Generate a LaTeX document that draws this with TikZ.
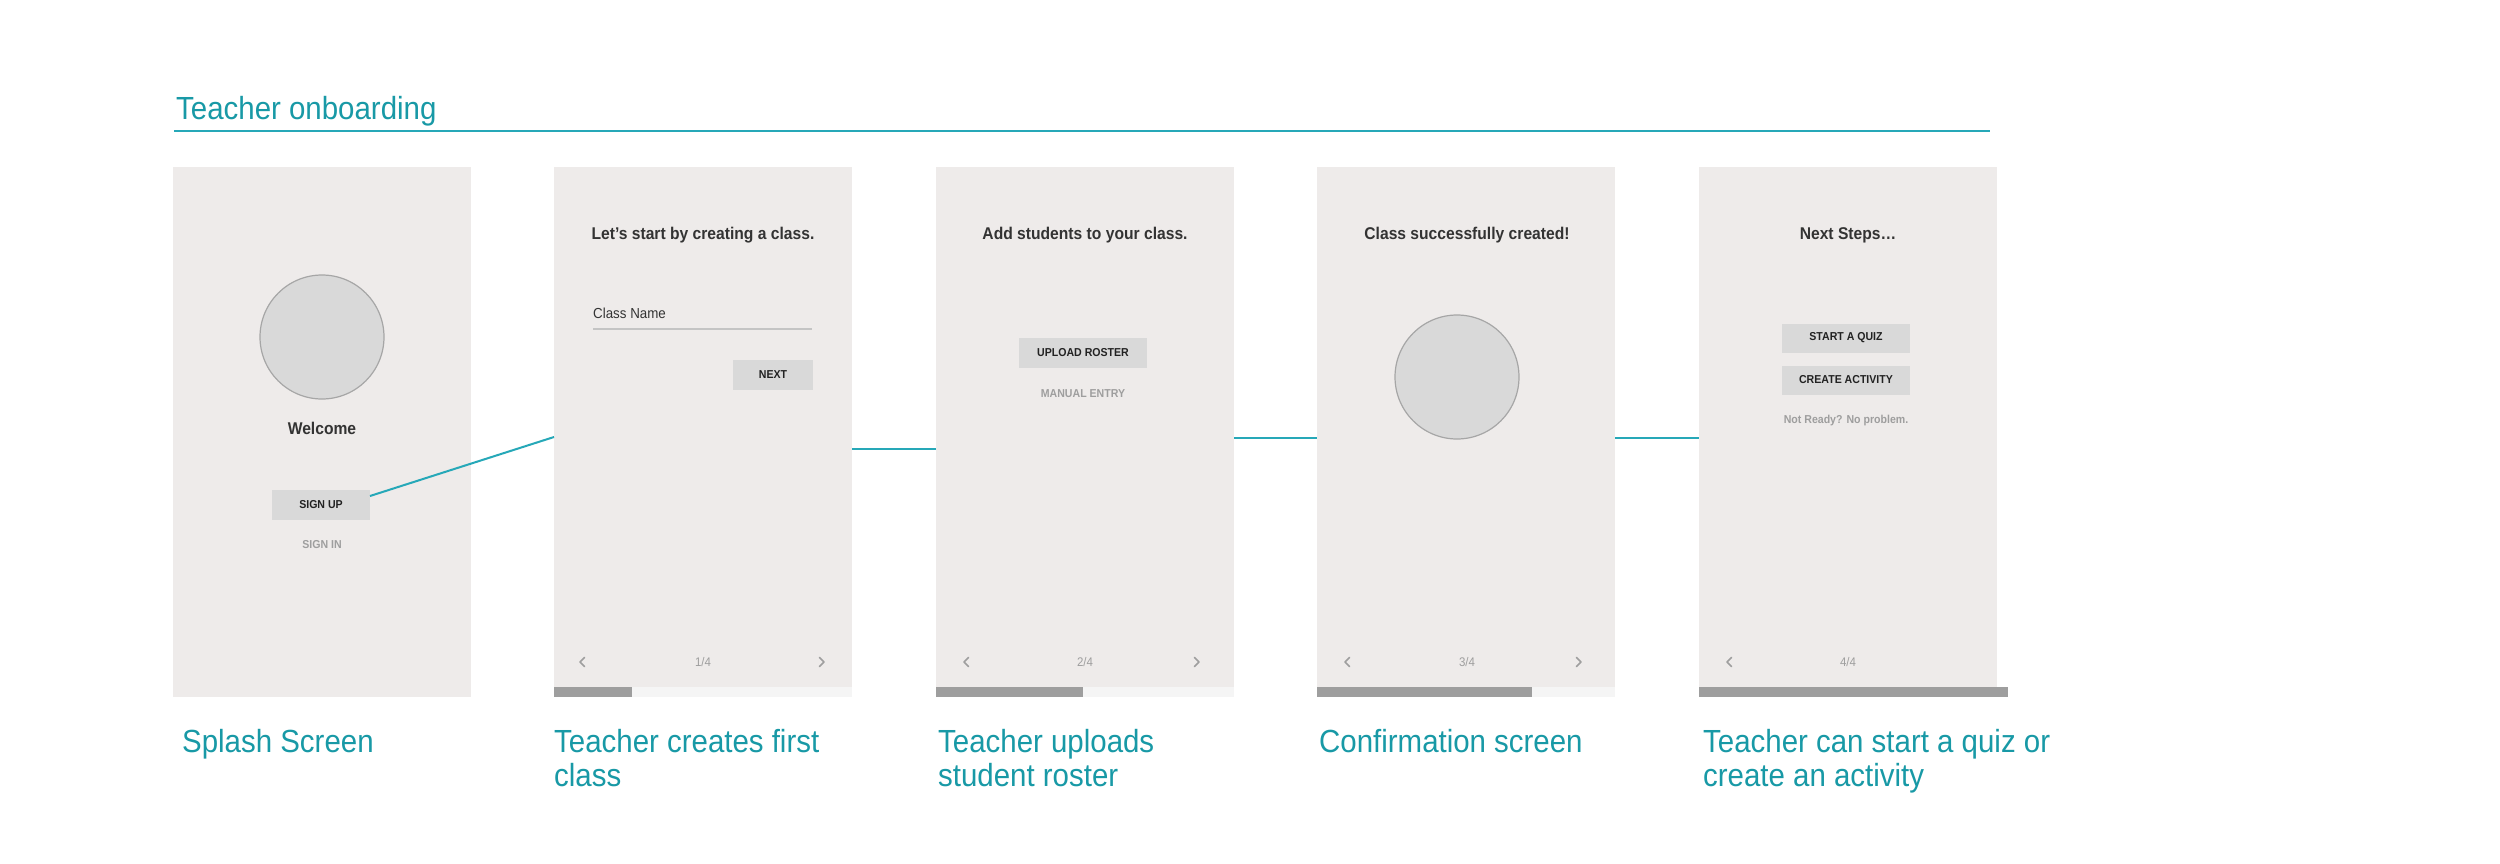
\documentclass[tikz,border=0pt]{standalone}
\usepackage{fontspec}
\setmainfont{Liberation Sans}[FakeStretch=0.92]
\usetikzlibrary{calc}
\definecolor{tealtxt}{RGB}{24,153,166}
\definecolor{tealline}{RGB}{38,168,184}
\definecolor{scr}{RGB}{238,235,234}
\definecolor{btnc}{RGB}{217,217,217}
\definecolor{darktxt}{RGB}{51,51,51}
\definecolor{btntxt}{RGB}{34,34,34}
\definecolor{greytxt}{RGB}{158,158,158}
\definecolor{progd}{RGB}{158,158,158}
\definecolor{progl}{RGB}{245,245,245}
\definecolor{circd}{RGB}{166,166,166}
\definecolor{ulinec}{RGB}{196,196,196}
\begin{document}
\begin{tikzpicture}[x=1pt,y=-1pt,
  scrbox/.style={fill=scr, draw=none, minimum width=298pt, minimum height=530pt, anchor=north west, inner sep=0pt, outer sep=0pt},
  circph/.style={circle, fill=btnc, draw=circd, line width=1.2pt, minimum size=124pt, inner sep=0pt},
  btnbox/.style={fill=btnc, inner sep=0pt, outer sep=0pt, text=btntxt, font=\bfseries\fontsize{11.5}{13}\selectfont},
  headtxt/.style={anchor=base, text=darktxt, font=\bfseries\fontsize{17}{20}\selectfont, inner sep=0pt},
  linktxt/.style={anchor=base, text=greytxt, font=\bfseries\fontsize{11.5}{13}\selectfont, inner sep=0pt},
  navtxt/.style={anchor=base, text=greytxt, font=\fontsize{12.5}{14}\selectfont, inner sep=0pt},
  chevpath/.style={draw=greytxt, line width=1.6pt, line cap=round, line join=round},
  trackbar/.style={fill=progl, draw=none},
  fillbarr/.style={fill=progd, draw=none},
  connline/.style={draw=tealline, line width=2pt},
  captxt/.style={anchor=base west, text=tealtxt, font=\fontsize{32}{34}\selectfont, inner sep=0pt},
]
\useasboundingbox[fill=white] (0,0) rectangle (2500,863);

% title
\node[captxt] (title) at (176,119) {Teacher onboarding};
\coordinate (ruleL) at (174,131);
\coordinate (ruleR) at (1990,131);
\draw[tealline, line width=1.6pt] (ruleL) -- (ruleR);

% screens
\node[scrbox] (s1) at (173,167) {};
\node[scrbox] (s2) at (554,167) {};
\node[scrbox] (s3) at (936,167) {};
\node[scrbox] (s4) at (1317,167) {};
\node[scrbox] (s5) at (1699,167) {};

% progress bars
\fill[trackbar] ($(s2.south west)+(0,-10)$) rectangle (s2.south east);
\fill[fillbarr] ($(s2.south west)+(0,-10)$) rectangle ($(s2.south west)+(78,0)$);
\fill[trackbar] ($(s3.south west)+(0,-10)$) rectangle (s3.south east);
\fill[fillbarr] ($(s3.south west)+(0,-10)$) rectangle ($(s3.south west)+(147,0)$);
\fill[trackbar] ($(s4.south west)+(0,-10)$) rectangle (s4.south east);
\fill[fillbarr] ($(s4.south west)+(0,-10)$) rectangle ($(s4.south west)+(215,0)$);
\fill[fillbarr] ($(s5.south west)+(0,-10)$) rectangle ($(s5.south west)+(309,0)$);

% screen 1
\node[circph] (c1) at (322,337) {};
\node[headtxt] (welcome) at (322,434) {Welcome};
\node[btnbox, minimum width=98pt, minimum height=30pt] (signup) at (321,505) {SIGN UP};
\node[linktxt] (signin) at (322,548) {SIGN IN};

% screen 2
\node[headtxt] (h2) at (703,239) {Let’s start by creating a class.};
\node[anchor=base west, inner sep=0pt, text=darktxt, font=\fontsize{14.5}{16}\selectfont] (cname) at (593,318) {Class Name};
\draw[ulinec, line width=2pt] (593,329) -- (812,329);
\node[btnbox, minimum width=80pt, minimum height=30pt] (next) at (773,375) {NEXT};
\node[navtxt] (n2) at (703,666) {1/4};
\draw[chevpath] (584.5,657.5) -- (580,662) -- (584.5,666.5);
\draw[chevpath] (819.5,657.5) -- (824,662) -- (819.5,666.5);

% screen 3
\node[headtxt] (h3) at (1085,239) {Add students to your class.};
\node[btnbox, minimum width=128pt, minimum height=30pt] (upload) at (1083,353) {UPLOAD ROSTER};
\node[linktxt] (manual) at (1083,397) {MANUAL ENTRY};
\node[navtxt] (n3) at (1085,666) {2/4};
\draw[chevpath] (968.5,657.5) -- (964,662) -- (968.5,666.5);
\draw[chevpath] (1194.5,657.5) -- (1199,662) -- (1194.5,666.5);

% screen 4
\node[headtxt] (h4) at (1467,239) {Class successfully created!};
\node[circph] (c4) at (1457,377) {};
\node[navtxt] (n4) at (1467,666) {3/4};
\draw[chevpath] (1349.5,657.5) -- (1345,662) -- (1349.5,666.5);
\draw[chevpath] (1576.5,657.5) -- (1581,662) -- (1576.5,666.5);

% screen 5
\node[headtxt] (h5) at (1848,239) {Next Steps…};
\node[btnbox, minimum width=128pt, minimum height=29pt] (quiz) at (1846,338) {START A QUIZ};
\node[btnbox, minimum width=128pt, minimum height=29pt] (activity) at (1846,380) {CREATE ACTIVITY};
\node[linktxt] (notready) at (1846,423) {Not Ready? No problem.};
\node[navtxt] (n5) at (1848,666) {4/4};
\draw[chevpath] (1731.5,657.5) -- (1727,662) -- (1731.5,666.5);

% connectors
\draw[connline] ($(signup.east)+(0,-9)$) -- ($(s2.north west)+(0,270)$);
\draw[connline] ($(s2.north east)+(0,282)$) -- ($(s3.north west)+(0,282)$);
\draw[connline] ($(s3.north east)+(0,271)$) -- ($(s4.north west)+(0,271)$);
\draw[connline] ($(s4.north east)+(0,271)$) -- ($(s5.north west)+(0,271)$);

% captions
\node[captxt] (cap1) at (182,752) {Splash Screen};
\node[captxt] (cap2) at (554,752) {\begin{tabular}[t]{@{}l@{}}Teacher creates first\\class\end{tabular}};
\node[captxt] (cap3) at (938,752) {\begin{tabular}[t]{@{}l@{}}Teacher uploads\\student roster\end{tabular}};
\node[captxt] (cap4) at (1319,752) {Confirmation screen};
\node[captxt] (cap5) at (1703,752) {\begin{tabular}[t]{@{}l@{}}Teacher can start a quiz or\\create an activity\end{tabular}};
\end{tikzpicture}
\end{document}
